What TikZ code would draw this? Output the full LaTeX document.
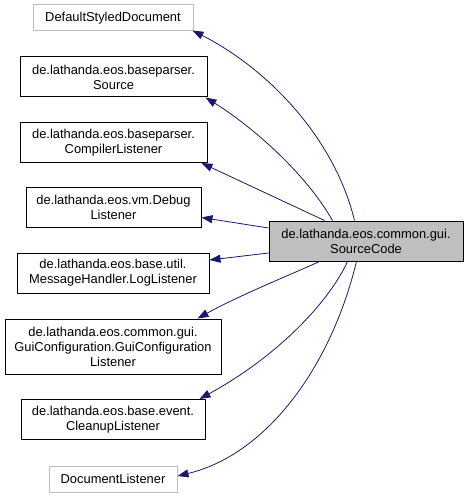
\documentclass[tikz,border=0pt]{standalone}
\usepackage{fontspec}
\setmainfont{Liberation Sans}
\usetikzlibrary{arrows.meta}
\definecolor{edgeblue}{HTML}{191970}
\definecolor{graybd}{HTML}{BFBFBF}
\definecolor{graynode}{HTML}{BFBFBF}
\tikzset{
  cls/.style={draw=black, line width=1pt, fill=white, inner sep=0pt, align=center,
    font=\fontsize{12.9}{15}\selectfont},
  ext/.style={cls, draw=graybd},
  main/.style={cls, fill=graynode},
  inh/.style={draw=edgeblue, line width=0.8pt, -{Triangle[length=11pt,width=8pt]}}
}
\begin{document}
\begin{tikzpicture}[x=1pt,y=-1pt]
\useasboundingbox (0,0) rectangle (468,497);
\node[ext, minimum width=160pt, minimum height=26pt] (dsd) at (113,18) {DefaultStyledDocument};
\node[cls, minimum width=187pt, minimum height=40pt] (src) at (113.5,77) {de.lathanda.eos.baseparser.\\Source};
\node[cls, minimum width=187pt, minimum height=40pt] (cl) at (113.5,142.5) {de.lathanda.eos.baseparser.\\CompilerListener};
\node[cls, minimum width=175pt, minimum height=40pt] (dbg) at (113.5,207.5) {de.lathanda.eos.vm.Debug\\Listener};
\node[cls, minimum width=192pt, minimum height=40pt] (log) at (113,273) {de.lathanda.eos.base.util.\\MessageHandler.LogListener};
\node[cls, minimum width=216pt, minimum height=55pt] (gui) at (113,346.5) {de.lathanda.eos.common.gui.\\GuiConfiguration.GuiConfiguration\\Listener};
\node[cls, minimum width=184pt, minimum height=40pt] (clean) at (113,419.5) {de.lathanda.eos.base.event.\\CleanupListener};
\node[ext, minimum width=128pt, minimum height=26pt] (doc) at (113,479) {DocumentListener};
\node[main, minimum width=194pt, minimum height=40pt] (sc) at (366,241) {de.lathanda.eos.common.gui.\\SourceCode};

\draw[inh] ([xshift=86pt]sc.north west) .. controls (335,140) and (270,70) .. ([shift={(-1pt,1pt)}]dsd.south east);
\draw[inh] ([xshift=64pt]sc.north west) .. controls (305,172) and (250,125) .. ([xshift=-2pt]src.south east);
\draw[inh] ([xshift=56pt]sc.north west) -- ([xshift=-6pt]cl.south east);
\draw[inh] ([yshift=13pt]sc.west) -- ([yshift=-10pt]dbg.east);
\draw[inh] ([yshift=-12pt]sc.west) -- ([yshift=13pt]log.east);
\draw[inh] ([xshift=51pt]sc.south west) .. controls (290,275) and (240,295) .. ([xshift=-24pt]gui.north east);
\draw[inh] ([xshift=79pt]sc.south west) .. controls (330,300) and (280,355) .. ([xshift=-6pt]clean.north east);
\draw[inh] ([xshift=88pt]sc.south west) .. controls (330,370) and (265,455) .. ([yshift=3pt]doc.east);
\end{tikzpicture}
\end{document}
